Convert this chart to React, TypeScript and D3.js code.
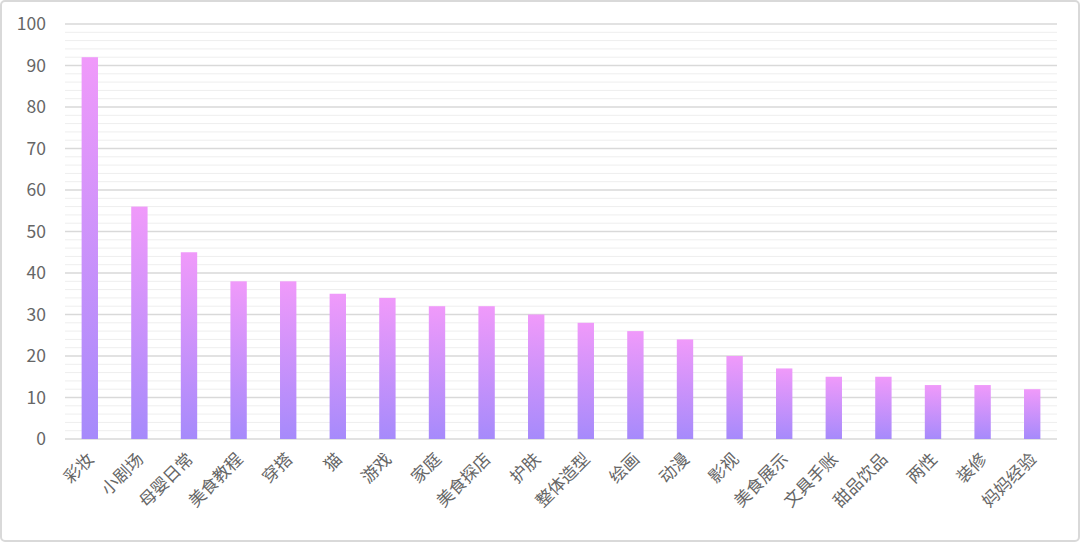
import { useEffect, useRef } from "react";
import * as d3 from "d3";

const categories = ["彩妆", "小剧场", "母婴日常", "美食教程", "穿搭", "猫", "游戏", "家庭", "美食探店", "护肤", "整体造型", "绘画", "动漫", "影视", "美食展示", "文具手账", "甜品饮品", "两性", "装修", "妈妈经验"];
const values = [92, 56, 45, 38, 38, 35, 34, 32, 32, 30, 28, 26, 24, 20, 17, 15, 15, 13, 13, 12];
const majorTicks = [0, 10, 20, 30, 40, 50, 60, 70, 80, 90, 100];
const minorTicks = d3.range(0, 101, 2).filter((v) => v % 10 !== 0);

function App() {
  const ref = useRef<SVGSVGElement>(null);

  useEffect(() => {
    document.body.style.margin = "0";
    const w = 1080;
    const h = 542;
    const m = { top: 24, right: 23, bottom: 103, left: 65 };
    const font = "'Noto Sans CJK SC', 'Noto Sans', sans-serif";

    const svg = d3.select(ref.current);
    svg.selectAll("*").remove();

    svg.append("rect")
      .attr("x", 1).attr("y", 1)
      .attr("width", w - 2).attr("height", h - 2)
      .attr("rx", 4)
      .attr("fill", "#fff")
      .attr("stroke", "#d9d9d9")
      .attr("stroke-width", 2);

    const grad = svg.append("defs").append("linearGradient")
      .attr("id", "barGrad")
      .attr("x1", 0).attr("y1", 0).attr("x2", 0).attr("y2", 1);
    grad.append("stop").attr("offset", "0%").attr("stop-color", "#f09afa");
    grad.append("stop").attr("offset", "100%").attr("stop-color", "#a68afb");

    const x = d3.scaleBand()
      .domain(categories)
      .range([m.left, w - m.right])
      .paddingInner(0.67)
      .paddingOuter(0.335);

    const y = d3.scaleLinear()
      .domain([0, 100])
      .range([h - m.bottom, m.top]);

    svg.append("g")
      .selectAll("line")
      .data(minorTicks)
      .join("line")
      .attr("x1", m.left).attr("x2", w - m.right)
      .attr("y1", (d) => y(d)).attr("y2", (d) => y(d))
      .attr("stroke", "#eeeeee")
      .attr("stroke-width", 1);

    svg.append("g")
      .selectAll("line")
      .data(majorTicks)
      .join("line")
      .attr("x1", m.left).attr("x2", w - m.right)
      .attr("y1", (d) => y(d)).attr("y2", (d) => y(d))
      .attr("stroke", "#d9d9d9")
      .attr("stroke-width", 1.3);

    svg.append("g")
      .selectAll("text")
      .data(majorTicks)
      .join("text")
      .attr("x", 46)
      .attr("y", (d) => y(d))
      .attr("dy", "0.35em")
      .attr("text-anchor", "end")
      .attr("font-family", font)
      .attr("font-size", 17.5)
      .attr("fill", "#666")
      .text((d) => d);

    svg.append("g")
      .selectAll("rect")
      .data(values)
      .join("rect")
      .attr("x", (d, i) => x(categories[i])!)
      .attr("width", x.bandwidth())
      .attr("y", (d) => y(d))
      .attr("height", (d) => y(0) - y(d))
      .attr("fill", "url(#barGrad)");

    svg.append("g")
      .selectAll("text")
      .data(categories)
      .join("text")
      .attr("transform", (d) => `translate(${x(d)! + x.bandwidth() / 2 + 1},${y(0) + 17}) rotate(-45)`)
      .attr("text-anchor", "end")
      .attr("dy", "0.35em")
      .attr("font-family", font)
      .attr("font-size", 17)
      .attr("fill", "#666")
      .text((d) => d);
  }, []);

  return <svg ref={ref} width={1080} height={542} style={{ position: "absolute", left: 0, top: 0 }} />;
}

export default App;
